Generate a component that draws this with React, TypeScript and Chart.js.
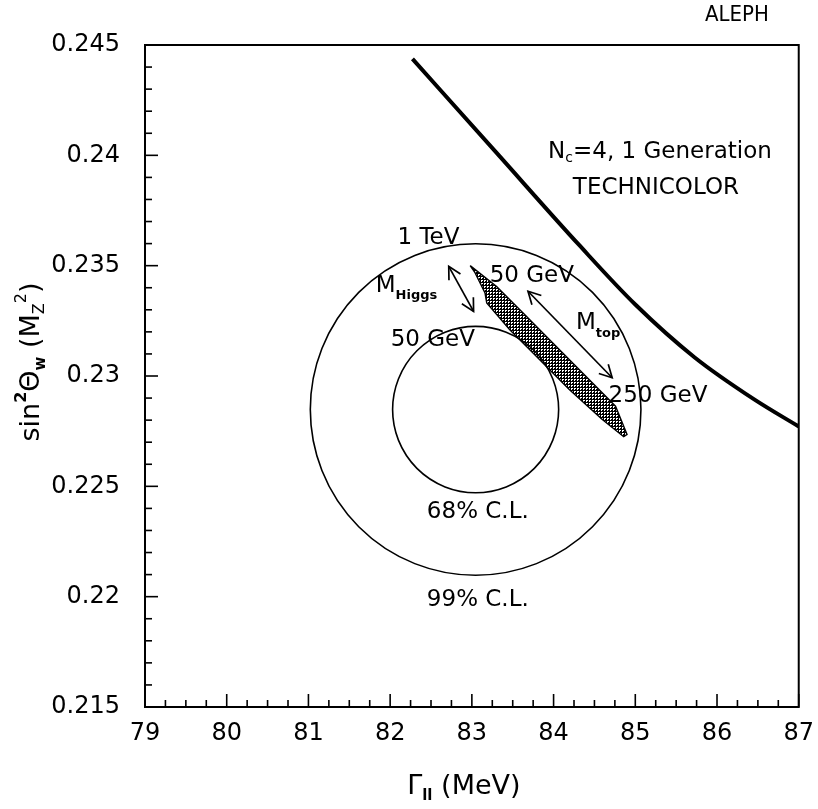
import React, { useEffect, useRef } from "react";
import { Chart, registerables } from "chart.js";

Chart.register(...registerables);

// ---------- axes ----------
const xTickValues = [79, 80, 81, 82, 83, 84, 85, 86, 87];
const xTickLabels = ["79", "80", "81", "82", "83", "84", "85", "86", "87"];
const yTickValues = [0.215, 0.22, 0.225, 0.23, 0.235, 0.24, 0.245];
const yTickLabels = ["0.215", "0.22", "0.225", "0.23", "0.235", "0.24", "0.245"];
const xMinorStep = 0.25;
const yMinorStep = 0.001;

// ---------- Technicolor prediction (Nc=4, 1 generation) ----------
const technicolorX = [82.273, 83.303, 84.309, 85.0, 85.727, 86.455, 87.0];
const technicolorY = [0.24437, 0.24011, 0.23595, 0.23324, 0.23084, 0.22894, 0.22771];

// ---------- SM band (Mtop 50..250 GeV, MHiggs 50 GeV..1 TeV) ----------
const bandUpperX = [82.979, 83.303, 83.627, 84.03, 84.434, 84.758, 84.899];
const bandUpperY = [0.235, 0.23406, 0.23286, 0.23135, 0.22984, 0.22863, 0.22735];
const bandLowerX = [84.858, 84.596, 84.192, 83.788, 83.464, 83.182, 83.161, 83.04];
const bandLowerY = [0.22725, 0.22803, 0.22939, 0.2309, 0.2321, 0.23331, 0.23376, 0.23467];

// ---------- confidence level contours ----------
const clCenterX = 83.046;
const clCenterY = 0.22848;
const clRadiusX = [1.016, 2.023];
const clRadiusY = [0.00377, 0.00751];
const clLabels = ["68% C.L.", "99% C.L."];

// ---------- arrows ----------
const higgsArrowX = [82.717, 83.021];
const higgsArrowY = [0.23497, 0.23293];
const topArrowX = [83.687, 84.717];
const topArrowY = [0.23384, 0.22992];

type Part = { t: string; s?: number; dy?: number; w?: string };
type Note = { parts: Part[]; x: number; y: number; align: "left" | "center" };

const notes: Note[] = [
  { parts: [{ t: "N" }, { t: "c", s: 0.6, dy: 0.28 }, { t: "=4, 1 Generation" }], x: 83.933, y: 0.24016, align: "left" },
  { parts: [{ t: "TECHNICOLOR" }], x: 84.236, y: 0.23853, align: "left" },
  { parts: [{ t: "1 TeV" }], x: 82.09, y: 0.23627, align: "left" },
  { parts: [{ t: "M" }, { t: "Higgs", s: 0.55, dy: 0.42, w: "bold" }], x: 81.824, y: 0.23409, align: "left" },
  { parts: [{ t: "50 GeV" }], x: 83.218, y: 0.23455, align: "left" },
  { parts: [{ t: "M" }, { t: "top", s: 0.55, dy: 0.42, w: "bold" }], x: 84.273, y: 0.23238, align: "left" },
  { parts: [{ t: "250 GeV" }], x: 84.673, y: 0.22907, align: "left" },
  { parts: [{ t: "50 GeV" }], x: 82.006, y: 0.23161, align: "left" },
  { parts: [{ t: clLabels[0] }], x: 83.073, y: 0.22382, align: "center" },
  { parts: [{ t: clLabels[1] }], x: 83.073, y: 0.21984, align: "center" },
];

const xTitle: Part[] = [{ t: "Γ" }, { t: "ll", s: 0.55, dy: 0.32, w: "bold" }, { t: " (MeV)" }];
const yTitle: Part[] = [
  { t: "sin" },
  { t: "2", s: 0.6, dy: -0.38, w: "bold" },
  { t: "Θ" },
  { t: "w", s: 0.55, dy: 0.32, w: "bold" },
  { t: " (M" },
  { t: "Z", s: 0.6, dy: 0.3 },
  { t: "2", s: 0.6, dy: -0.38 },
  { t: ")" },
];
const experimentLabel = "ALEPH";

const FONT = '"DejaVu Sans", "Liberation Sans", sans-serif';

function drawRich(ctx: CanvasRenderingContext2D, parts: Part[], x: number, y: number, base: number, align: "left" | "center") {
  const fonts = parts.map((p) => `${p.w || "normal"} ${Math.round(base * (p.s || 1))}px ${FONT}`);
  let total = 0;
  parts.forEach((p, i) => {
    ctx.font = fonts[i];
    total += ctx.measureText(p.t).width;
  });
  let cx = align === "center" ? x - total / 2 : x;
  ctx.textAlign = "left";
  ctx.textBaseline = "middle";
  parts.forEach((p, i) => {
    ctx.font = fonts[i];
    ctx.fillText(p.t, cx, y + (p.dy || 0) * base);
    cx += ctx.measureText(p.t).width;
  });
}

function arrowHead(ctx: CanvasRenderingContext2D, x: number, y: number, ang: number) {
  const L = 14;
  const a = (28 * Math.PI) / 180;
  ctx.beginPath();
  ctx.moveTo(x + L * Math.cos(ang + Math.PI - a), y + L * Math.sin(ang + Math.PI - a));
  ctx.lineTo(x, y);
  ctx.lineTo(x + L * Math.cos(ang + Math.PI + a), y + L * Math.sin(ang + Math.PI + a));
  ctx.stroke();
}

const decorPlugin = {
  id: "decor",
  afterDatasetsDraw(chart: any) {
    const ctx: CanvasRenderingContext2D = chart.ctx;
    const xs = chart.scales.x;
    const ys = chart.scales.y;
    const { left, right, top, bottom } = chart.chartArea;
    ctx.save();
    ctx.strokeStyle = "#000";
    ctx.fillStyle = "#000";

    // confidence ellipses
    ctx.lineWidth = 1.6;
    const cx = xs.getPixelForValue(clCenterX);
    const cy = ys.getPixelForValue(clCenterY);
    clRadiusX.forEach((rx, i) => {
      const prx = Math.abs(xs.getPixelForValue(clCenterX + rx) - cx);
      const pry = Math.abs(ys.getPixelForValue(clCenterY + clRadiusY[i]) - cy);
      ctx.beginPath();
      ctx.ellipse(cx, cy, prx, pry, 0, 0, Math.PI * 2);
      ctx.stroke();
    });

    // double arrows
    ctx.lineWidth = 1.7;
    [[higgsArrowX, higgsArrowY], [topArrowX, topArrowY]].forEach(([ax, ay]) => {
      const x1 = xs.getPixelForValue(ax[0]);
      const y1 = ys.getPixelForValue(ay[0]);
      const x2 = xs.getPixelForValue(ax[1]);
      const y2 = ys.getPixelForValue(ay[1]);
      ctx.beginPath();
      ctx.moveTo(x1, y1);
      ctx.lineTo(x2, y2);
      ctx.stroke();
      const ang = Math.atan2(y2 - y1, x2 - x1);
      arrowHead(ctx, x2, y2, ang);
      arrowHead(ctx, x1, y1, ang + Math.PI);
    });

    // frame
    ctx.lineWidth = 2;
    ctx.strokeRect(left, top, right - left, bottom - top);

    // inward ticks
    ctx.lineWidth = 1.6;
    for (let v = 79; v <= 87 + 1e-9; v += xMinorStep) {
      const major = Math.abs(v - Math.round(v)) < 1e-6;
      const px = xs.getPixelForValue(v);
      ctx.beginPath();
      ctx.moveTo(px, bottom);
      ctx.lineTo(px, bottom - (major ? 13 : 7));
      ctx.stroke();
    }
    for (let k = 0; k <= 30; k++) {
      const v = 0.215 + k * yMinorStep;
      const major = k % 5 === 0;
      const py = ys.getPixelForValue(v);
      ctx.beginPath();
      ctx.moveTo(left, py);
      ctx.lineTo(left + (major ? 13 : 7), py);
      ctx.stroke();
    }

    // annotations
    notes.forEach((n) => {
      drawRich(ctx, n.parts, xs.getPixelForValue(n.x), ys.getPixelForValue(n.y), 23, n.align);
    });

    // axis titles
    drawRich(ctx, xTitle, (left + right) / 2 - 8, bottom + 80, 27, "center");
    ctx.save();
    ctx.translate(32, (top + bottom) / 2 - 14);
    ctx.rotate(-Math.PI / 2);
    drawRich(ctx, yTitle, 0, 0, 27, "center");
    ctx.restore();

    // experiment label
    ctx.font = `22px "DejaVu Sans Condensed", ${FONT}`;
    ctx.textAlign = "center";
    ctx.textBaseline = "middle";
    ctx.fillText(experimentLabel, 737, 15);
    ctx.restore();
  },
};

export default function App() {
  const ref = useRef<HTMLCanvasElement>(null);
  useEffect(() => {
    document.body.style.margin = "0";
    const canvas = ref.current!;
    const pc = document.createElement("canvas");
    pc.width = 3;
    pc.height = 3;
    const pctx = pc.getContext("2d")!;
    pctx.fillStyle = "#fff";
    pctx.fillRect(0, 0, 3, 3);
    pctx.fillStyle = "#000";
    pctx.fillRect(0, 0, 3, 1);
    pctx.fillRect(0, 0, 1, 3);
    pctx.fillRect(2, 2, 1, 1);
    const pattern = canvas.getContext("2d")!.createPattern(pc, "repeat");

    const techPts = technicolorX.map((x, i) => ({ x, y: technicolorY[i] }));
    const bandPts = [
      ...bandUpperX.map((x, i) => ({ x, y: bandUpperY[i] })),
      ...bandLowerX.map((x, i) => ({ x, y: bandLowerY[i] })),
    ];
    bandPts.push({ ...bandPts[0] });

    const chart = new Chart(canvas, {
      type: "scatter",
      data: {
        datasets: [
          {
            data: techPts,
            showLine: true,
            borderColor: "#000",
            borderWidth: 4,
            pointRadius: 0,
            cubicInterpolationMode: "monotone",
            fill: false,
          },
          {
            data: bandPts,
            showLine: true,
            borderColor: "#000",
            borderWidth: 1.4,
            pointRadius: 0,
            tension: 0,
            fill: "shape",
            backgroundColor: pattern as any,
          },
        ],
      },
      options: {
        responsive: false,
        animation: false,
        layout: { padding: { top: 45, right: 13, left: 0, bottom: 0 } },
        plugins: { legend: { display: false }, tooltip: { enabled: false } },
        scales: {
          x: {
            type: "linear",
            min: 79,
            max: 87,
            afterBuildTicks: (s: any) => {
              s.ticks = xTickValues.map((value) => ({ value }));
            },
            afterFit: (s: any) => {
              s.height = 102;
            },
            grid: { display: false },
            border: { display: false },
            ticks: {
              color: "#000",
              font: { family: FONT, size: 24 },
              padding: 4,
              maxRotation: 0,
              autoSkip: false,
              callback: (_v: any, i: number) => xTickLabels[i],
            },
          },
          y: {
            type: "linear",
            min: 0.215,
            max: 0.245,
            afterBuildTicks: (s: any) => {
              s.ticks = yTickValues.map((value) => ({ value }));
            },
            afterFit: (s: any) => {
              s.width = 145;
            },
            grid: { display: false },
            border: { display: false },
            ticks: {
              color: "#000",
              font: { family: FONT, size: 24 },
              padding: 17,
              autoSkip: false,
              callback: (_v: any, i: number) => yTickLabels[i],
            },
          },
        },
      },
      plugins: [decorPlugin],
    } as any);
    return () => chart.destroy();
  }, []);
  return (
    <div style={{ width: 818, height: 809, background: "#fff" }}>
      <canvas ref={ref} width={818} height={809} style={{ display: "block" }} />
    </div>
  );
}
